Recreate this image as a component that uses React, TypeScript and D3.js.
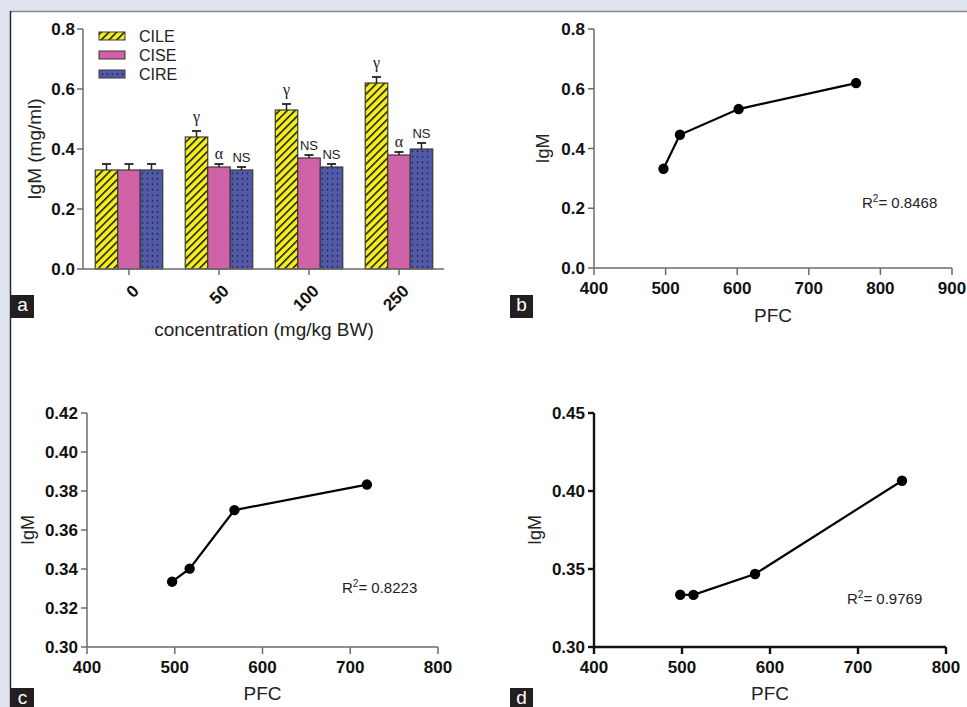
import React from "react";
import * as d3 from "d3";

const concentrations = ["0", "50", "100", "250"];
const seriesNames = ["CILE", "CISE", "CIRE"];
const cileValues = [0.33, 0.44, 0.53, 0.62];
const ciseValues = [0.33, 0.34, 0.37, 0.38];
const cireValues = [0.33, 0.33, 0.34, 0.4];
const cileErr = [0.02, 0.02, 0.02, 0.02];
const ciseErr = [0.02, 0.01, 0.01, 0.01];
const cireErr = [0.02, 0.01, 0.01, 0.02];
const cileSig = ["", "γ", "γ", "γ"];
const ciseSig = ["", "α", "NS", "α"];
const cireSig = ["", "NS", "NS", "NS"];

const pfcB = [497, 520, 602, 766];
const igmB = [0.332, 0.446, 0.532, 0.619];
const pfcC = [497, 517, 568, 719];
const igmC = [0.3335, 0.3402, 0.3702, 0.3833];
const pfcD = [498, 513, 583, 750];
const igmD = [0.3335, 0.3334, 0.3468, 0.4066];

const ticksAY = [0, 0.2, 0.4, 0.6, 0.8];
const ticksBY = [0, 0.2, 0.4, 0.6, 0.8];
const ticksBX = [400, 500, 600, 700, 800, 900];
const ticksCY = [0.3, 0.32, 0.34, 0.36, 0.38, 0.4, 0.42];
const ticksCX = [400, 500, 600, 700, 800];
const ticksDY = [0.3, 0.35, 0.4, 0.45];
const ticksDX = [400, 500, 600, 700, 800];

const FONT = "'Liberation Sans', Arial, Helvetica, sans-serif";
const YELLOW = "#f3ee1e";
const PINK = "#d062a8";
const BLUE = "#5159a9";

type ScatterProps = {
  xs: number[];
  ys: number[];
  xDomain: [number, number];
  yDomain: [number, number];
  xRange: [number, number];
  yRange: [number, number];
  xTicks: number[];
  yTicks: number[];
  yFmt: (v: number) => string;
  r2: string;
  r2Pos: [number, number];
  axisColor: string;
  axisWidth: number;
  tickLabelY: number;
  titleY: number;
  igmX: number;
};

function Scatter(p: ScatterProps) {
  const x = d3.scaleLinear().domain(p.xDomain).range(p.xRange);
  const y = d3.scaleLinear().domain(p.yDomain).range(p.yRange);
  const pts = p.xs.map((v, i) => [x(v), y(p.ys[i])] as [number, number]);
  const line = d3.line()(pts) || "";
  const x0 = p.xRange[0];
  const y0 = p.yRange[0];
  return (
    <g>
      <line x1={x0} x2={x0} y1={p.yRange[1]} y2={y0} stroke={p.axisColor} strokeWidth={p.axisWidth} />
      <line x1={x0} x2={p.xRange[1]} y1={y0} y2={y0} stroke={p.axisColor} strokeWidth={p.axisWidth} />
      {p.yTicks.map((t) => (
        <g key={"y" + t}>
          <line x1={x0 - 6} x2={x0} y1={y(t)} y2={y(t)} stroke={p.axisColor} strokeWidth={p.axisWidth} />
          <text x={x0 - 9} y={y(t)} dy="0.36em" textAnchor="end" fontFamily={FONT} fontWeight="bold" fontSize={17} fill="#111">
            {p.yFmt(t)}
          </text>
        </g>
      ))}
      {p.xTicks.map((t) => (
        <g key={"x" + t}>
          <line x1={x(t)} x2={x(t)} y1={y0} y2={y0 + 7} stroke={p.axisColor} strokeWidth={p.axisWidth} />
          <text x={x(t)} y={p.tickLabelY} textAnchor="middle" fontFamily={FONT} fontWeight="bold" fontSize={17} fill="#111">
            {t}
          </text>
        </g>
      ))}
      <text x={(p.xRange[0] + p.xRange[1]) / 2} y={p.titleY} textAnchor="middle" fontFamily={FONT} fontSize={19} fill="#222">
        PFC
      </text>
      <text transform={`translate(${p.igmX},${(p.yRange[0] + p.yRange[1]) / 2}) rotate(-90)`} textAnchor="middle" fontFamily={FONT} fontSize={18} fill="#222">
        IgM
      </text>
      <path d={line} fill="none" stroke="#000" strokeWidth={2.2} />
      {pts.map((q, i) => (
        <circle key={i} cx={q[0]} cy={q[1]} r={5.2} fill="#000" />
      ))}
      <text x={p.r2Pos[0]} y={p.r2Pos[1]} fontFamily={FONT} fontSize={15} fill="#222">
        R<tspan dy={-6} fontSize={10}>2</tspan>
        <tspan dy={6}>= {p.r2}</tspan>
      </text>
    </g>
  );
}

function PanelLabel({ x, y, label }: { x: number; y: number; label: string }) {
  return (
    <g>
      <rect x={x} y={y} width={23} height={23} fill="#231f20" />
      <text x={x + 11.5} y={y + 16} textAnchor="middle" fontFamily={FONT} fontSize={19} fill="#fff">
        {label}
      </text>
    </g>
  );
}

function BarPanel() {
  const x = d3.scaleBand().domain(concentrations).range([84, 444]).paddingInner(0.25).paddingOuter(0.125);
  const inner = d3.scaleBand().domain(seriesNames).range([0, x.bandwidth()]);
  const y = d3.scaleLinear().domain([0, 0.8]).range([269, 29]);
  const series = [
    { name: "CILE", vals: cileValues, err: cileErr, sig: cileSig, fill: "url(#hatch)" },
    { name: "CISE", vals: ciseValues, err: ciseErr, sig: ciseSig, fill: PINK },
    { name: "CIRE", vals: cireValues, err: cireErr, sig: cireSig, fill: "url(#dots)" },
  ];
  const axisC = "#6b6b6b";
  return (
    <g>
      {series.map((s) =>
        concentrations.map((c, i) => {
          const bx = (x(c) || 0) + (inner(s.name) || 0);
          const bw = inner.bandwidth();
          const top = y(s.vals[i]);
          const et = y(s.vals[i] + s.err[i]);
          const cx = bx + bw / 2;
          const isGreek = s.sig[i] === "γ" || s.sig[i] === "α";
          return (
            <g key={s.name + c}>
              <rect x={bx} y={top} width={bw} height={y(0) - top} fill={s.fill} stroke="#3a3a3a" strokeWidth={1.2} />
              <line x1={cx} x2={cx} y1={top} y2={et} stroke="#222" strokeWidth={1.5} />
              <line x1={cx - 4.5} x2={cx + 4.5} y1={et} y2={et} stroke="#222" strokeWidth={1.8} />
              {s.sig[i] && (
                <text
                  x={cx}
                  y={s.sig[i] === "γ" ? et - 9 : et - 5}
                  textAnchor="middle"
                  fontFamily={isGreek ? "'Liberation Serif', 'DejaVu Serif', serif" : FONT}
                  fontSize={isGreek ? 16 : 13}
                  fill="#222"
                >
                  {s.sig[i]}
                </text>
              )}
            </g>
          );
        })
      )}
      <line x1={83} x2={83} y1={29} y2={269} stroke={axisC} strokeWidth={1.5} />
      <line x1={83} x2={444} y1={269} y2={269} stroke={axisC} strokeWidth={1.5} />
      {ticksAY.map((t) => (
        <g key={t}>
          <line x1={77} x2={83} y1={y(t)} y2={y(t)} stroke={axisC} strokeWidth={1.5} />
          <text x={75} y={y(t)} dy="0.36em" textAnchor="end" fontFamily={FONT} fontWeight="bold" fontSize={17} fill="#111">
            {t.toFixed(1)}
          </text>
        </g>
      ))}
      {concentrations.map((c) => {
        const cx = (x(c) || 0) + x.bandwidth() / 2;
        return (
          <g key={c}>
            <line x1={cx} x2={cx} y1={269} y2={275} stroke={axisC} strokeWidth={1.5} />
            <text transform={`translate(${cx + 11},${292}) rotate(-45)`} textAnchor="end" fontFamily={FONT} fontWeight="bold" fontSize={17} fill="#111">
              {c}
            </text>
          </g>
        );
      })}
      <text x={264} y={336} textAnchor="middle" fontFamily={FONT} fontSize={19} fill="#222">
        concentration (mg/kg BW)
      </text>
      <text transform="translate(41,149) rotate(-90)" textAnchor="middle" fontFamily={FONT} fontSize={19} fill="#222">
        IgM (mg/ml)
      </text>
      {series.map((s, i) => (
        <g key={"lg" + s.name}>
          <rect x={99} y={32 + i * 19} width={26} height={8} fill={s.fill} stroke="#3a3a3a" strokeWidth={1} />
          <text x={139} y={36 + i * 19} dy="0.36em" fontFamily={FONT} fontSize={16} fill="#222">
            {s.name}
          </text>
        </g>
      ))}
    </g>
  );
}

export default function App() {
  return (
    <svg width={967} height={707} style={{ position: "absolute", left: 0, top: 0 }}>
      <defs>
        <pattern id="hatch" patternUnits="userSpaceOnUse" width={5.5} height={5.5} patternTransform="rotate(45)">
          <rect width={5.5} height={5.5} fill={YELLOW} />
          <line x1={0} y1={0} x2={0} y2={5.5} stroke="#111" strokeWidth={3} />
        </pattern>
        <pattern id="dots" patternUnits="userSpaceOnUse" width={5} height={5.5}>
          <rect width={5} height={5.5} fill={BLUE} />
          <circle cx={2.5} cy={2.75} r={0.8} fill="#111" />
        </pattern>
      </defs>
      <rect x={0} y={0} width={967} height={707} fill="#dfe3f1" />
      <rect x={11} y={12} width={956} height={695} fill="#fff" />
      <line x1={10} x2={967} y1={11.5} y2={11.5} stroke="#8c8c8c" strokeWidth={1.6} />
      <line x1={10.5} x2={10.5} y1={11} y2={707} stroke="#222" strokeWidth={1.4} />

      <BarPanel />
      <Scatter
        xs={pfcB}
        ys={igmB}
        xDomain={[400, 900]}
        yDomain={[0, 0.8]}
        xRange={[594, 952]}
        yRange={[268, 29]}
        xTicks={ticksBX}
        yTicks={ticksBY}
        yFmt={(v) => v.toFixed(1)}
        r2="0.8468"
        r2Pos={[862, 208]}
        axisColor="#6b6b6b"
        axisWidth={1.5}
        tickLabelY={294}
        titleY={322}
        igmX={549}
      />
      <Scatter
        xs={pfcC}
        ys={igmC}
        xDomain={[400, 800]}
        yDomain={[0.3, 0.42]}
        xRange={[87, 438]}
        yRange={[647, 413]}
        xTicks={ticksCX}
        yTicks={ticksCY}
        yFmt={(v) => v.toFixed(2)}
        r2="0.8223"
        r2Pos={[342, 593]}
        axisColor="#6b6b6b"
        axisWidth={1.5}
        tickLabelY={673}
        titleY={700}
        igmX={34}
      />
      <Scatter
        xs={pfcD}
        ys={igmD}
        xDomain={[400, 800]}
        yDomain={[0.3, 0.45]}
        xRange={[594, 946]}
        yRange={[647, 413]}
        xTicks={ticksDX}
        yTicks={ticksDY}
        yFmt={(v) => v.toFixed(2)}
        r2="0.9769"
        r2Pos={[847, 604]}
        axisColor="#111"
        axisWidth={2.4}
        tickLabelY={673}
        titleY={700}
        igmX={541}
      />
      <PanelLabel x={11} y={295} label="a" />
      <PanelLabel x={510} y={295} label="b" />
      <PanelLabel x={11} y={688} label="c" />
      <PanelLabel x={510} y={688} label="d" />
    </svg>
  );
}
